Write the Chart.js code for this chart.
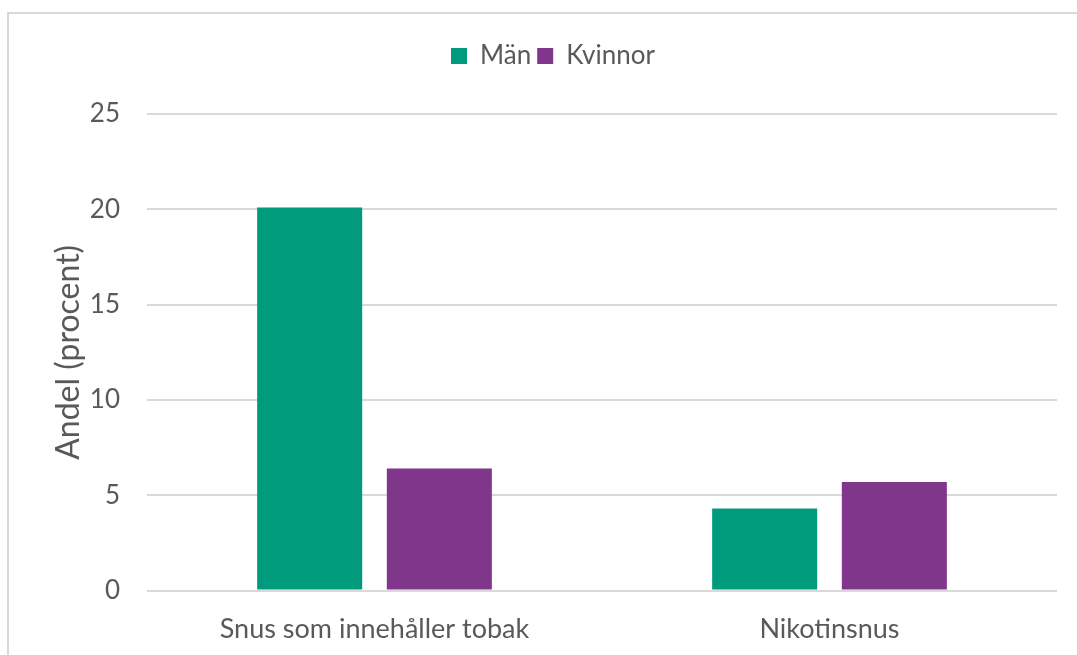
<!DOCTYPE html>
<html>
<head>
<meta charset="utf-8">
<script src="https://cdn.jsdelivr.net/npm/chart.js@4"></script>
<style>
  html, body { margin: 0; padding: 0; background: #fff; }
  #wrap { position: relative; width: 1077px; height: 655px; overflow: hidden; }
  #frame { position: absolute; left: 7px; top: 12px; width: 1200px; height: 800px;
           border-top: 2px solid #d9d9d9; border-left: 2px solid #d9d9d9; }
  #box { position: absolute; left: 0; top: 0; width: 1077px; height: 673px; }
</style>
</head>
<body>
<div id="wrap">
  <div id="frame"></div>
  <div id="box"><canvas id="grafico"></canvas></div>
</div>
<script>
const kategorier = ["Snus som innehåller tobak", "Nikotinsnus"];
const man = [20.1, 4.3];
const kvinnor = [6.4, 5.7];
const yTicks = [0, 5, 10, 15, 20, 25];

const textFarg = "#595959";
const font = "Lato, 'Open Sans', sans-serif";

// extra space under the legend
const legendGap = {
  id: 'legendGap',
  beforeInit(chart) {
    const fit = chart.legend.fit;
    chart.legend.fit = function () {
      fit.bind(chart.legend)();
      this.height += 35;
    };
  }
};

const ctx = document.getElementById("grafico").getContext("2d");
new Chart(ctx, {
  type: 'bar',
  data: {
    labels: kategorier,
    datasets: [
      {
        label: 'Män',
        data: man,
        backgroundColor: '#009a7c',
        categoryPercentage: 0.57,
        barPercentage: 0.81
      },
      {
        label: 'Kvinnor',
        data: kvinnor,
        backgroundColor: '#80368b',
        categoryPercentage: 0.57,
        barPercentage: 0.81
      }
    ]
  },
  plugins: [legendGap],
  options: {
    responsive: true,
    maintainAspectRatio: false,
    animation: false,
    layout: {
      padding: { left: 49, right: 20, top: 37, bottom: 14 }
    },
    plugins: {
      tooltip: { enabled: false },
      legend: {
        position: 'top',
        labels: {
          color: textFarg,
          font: { family: font, size: 26 },
          boxWidth: 16,
          boxHeight: 16,
          padding: 6
        }
      }
    },
    scales: {
      x: {
        grid: { display: false },
        border: { display: false },
        ticks: {
          color: textFarg,
          font: { family: font, size: 27 },
          padding: 14
        }
      },
      y: {
        min: 0,
        max: 25,
        afterBuildTicks: axis => {
          axis.ticks = yTicks.map(v => ({ value: v }));
        },
        afterFit: axis => {
          axis.width = 98;
        },
        grid: { color: '#d9d9d9', lineWidth: 2, drawTicks: false },
        border: { display: false },
        ticks: {
          color: textFarg,
          font: { family: font, size: 26 },
          padding: 27
        },
        title: {
          display: true,
          text: 'Andel (procent)',
          color: textFarg,
          font: { family: font, size: 32 },
          padding: { top: 0, bottom: 5 }
        }
      }
    }
  }
});
</script>
</body>
</html>
